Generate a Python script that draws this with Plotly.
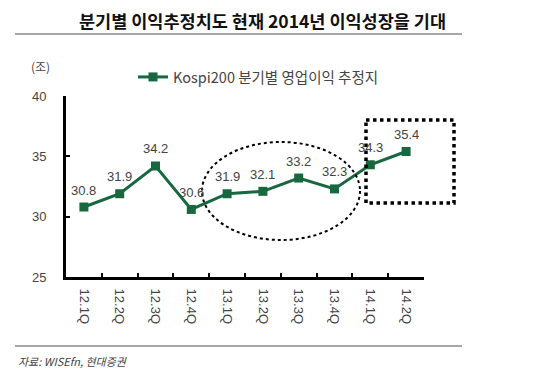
import plotly.graph_objects as go

categories = ["12.1Q", "12.2Q", "12.3Q", "12.4Q", "13.1Q", "13.2Q", "13.3Q", "13.4Q", "14.1Q", "14.2Q"]
values = [30.8, 31.9, 34.2, 30.6, 31.9, 32.1, 33.2, 32.3, 34.3, 35.4]
y_ticks = [25, 30, 35, 40]
series_name = "Kospi200 분기별 영업이익 추정지"
title_text = "분기별 이익추정치도 현재 2014년 이익성장을 기대"
source_text = "자료: WISEfn, 현대증권"
unit_text = "(조)"

GREEN = "#17683f"
FONT = "Noto Sans CJK KR"

fig = go.Figure()
fig.add_trace(go.Scatter(
    x=categories, y=values, mode="lines+markers", name=series_name,
    line=dict(color=GREEN, width=3),
    marker=dict(symbol="square", size=9, color=GREEN),
    cliponaxis=False,
))

for c, v in zip(categories, values):
    fig.add_annotation(x=c, y=v, text=f"{v:.1f}", showarrow=False, yshift=17,
                       font=dict(size=13, color="#444", family="Liberation Sans"))

W, H = 545, 371
L, R, T, B = 66, 424, 96, 277

def px(x):
    return (x - L) / (R - L)

def py(y):
    return (B - y) / (B - T)

shapes = [
    dict(type="line", xref="paper", yref="paper", x0=px(15), x1=px(462), y0=py(34), y1=py(34),
         line=dict(color="#888", width=1.5)),
    dict(type="line", xref="paper", yref="paper", x0=px(15), x1=px(462), y0=py(346), y1=py(346),
         line=dict(color="#888", width=1.5)),
    dict(type="circle", xref="paper", yref="paper", x0=px(202), x1=px(360), y0=py(142), y1=py(240),
         line=dict(color="black", width=2, dash="dot")),
    dict(type="rect", xref="paper", yref="paper", x0=px(366), x1=px(454), y0=py(120), y1=py(203),
         line=dict(color="black", width=3.5, dash="dot")),
]

annotations_extra = [
    dict(text=f"<b>{title_text}</b>", xref="paper", yref="paper", x=px(262), y=py(20),
         showarrow=False, xanchor="center", yanchor="middle",
         font=dict(size=17.5, color="#111", family=FONT)),
    dict(text=f"<i>{source_text}</i>", xref="paper", yref="paper", x=px(16), y=py(361),
         showarrow=False, xanchor="left", yanchor="middle",
         font=dict(size=11, color="#444", family=FONT)),
    dict(text=unit_text, xref="paper", yref="paper", x=px(40), y=py(66),
         showarrow=False, xanchor="center", yanchor="middle",
         font=dict(size=12, color="#444", family=FONT)),
]
for a in annotations_extra:
    fig.add_annotation(**a)

fig.update_layout(
    width=W, height=H,
    margin=dict(l=L, r=W - R, t=T, b=H - B),
    plot_bgcolor="white", paper_bgcolor="white",
    showlegend=True,
    legend=dict(x=px(133), y=py(77), xanchor="left", yanchor="middle", orientation="h",
                font=dict(size=14.5, color="#444", family=FONT), bgcolor="rgba(0,0,0,0)"),
    shapes=shapes,
    xaxis=dict(type="category", range=[-0.5, len(categories) - 0.5], showgrid=False,
               showline=True, linecolor="black", linewidth=3, ticks="inside", ticklen=4,
               tickcolor="black", tickwidth=2, tickson="boundaries", tickangle=90,
               tickfont=dict(size=13, color="#444", family="Liberation Sans"),
               ticklabelstandoff=6, zeroline=False),
    yaxis=dict(range=[25, 40], tickvals=y_ticks, showgrid=False, showline=True,
               linecolor="black", linewidth=3, ticks="inside", ticklen=4, tickcolor="black",
               tickwidth=2, tickfont=dict(size=13, color="#444", family="Liberation Sans"),
               ticklabelstandoff=14, zeroline=False),
)

fig.write_html("out.html", config={"displayModeBar": False},
               post_script="document.body.style.margin='0';document.body.style.overflow='hidden';")
